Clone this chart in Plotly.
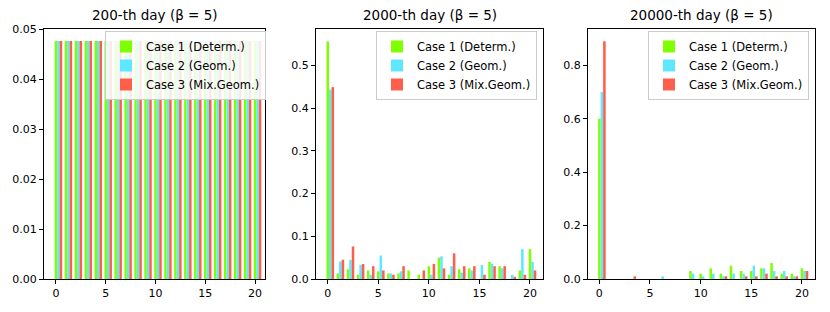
import plotly.graph_objects as go

categories = list(range(21))
series_names = ["Case 1 (Determ.)", "Case 2 (Geom.)", "Case 3 (Mix.Geom.)"]
titles = ["200-th day (β = 5)", "2000-th day (β = 5)", "20000-th day (β = 5)"]

# Day 200: uniform distribution
day200_case1 = [0.0476] * 21
day200_case2 = [0.0476] * 21
day200_case3 = [0.0476] * 21

# Day 2000
day2000_case1 = [0.556, 0.013, 0.023, 0.010, 0.020, 0.018, 0.013, 0.013, 0.020, 0.010, 0.030,
                 0.050, 0.010, 0.023, 0.025, 0.0, 0.040, 0.030, 0.0, 0.020, 0.070]
day2000_case2 = [0.443, 0.041, 0.045, 0.033, 0.010, 0.055, 0.013, 0.018, 0.0, 0.0, 0.010,
                 0.053, 0.030, 0.015, 0.020, 0.033, 0.036, 0.025, 0.010, 0.070, 0.040]
day2000_case3 = [0.449, 0.045, 0.076, 0.035, 0.030, 0.020, 0.010, 0.030, 0.0, 0.020, 0.035,
                 0.025, 0.060, 0.030, 0.030, 0.010, 0.030, 0.030, 0.005, 0.010, 0.020]

# Day 20000
day20000_case1 = [0.60, 0.0, 0.0, 0.0, 0.0, 0.0, 0.0, 0.0, 0.0, 0.03, 0.02,
                  0.04, 0.02, 0.05, 0.03, 0.03, 0.04, 0.06, 0.02, 0.02, 0.04]
day20000_case2 = [0.70, 0.0, 0.0, 0.0, 0.0, 0.0, 0.01, 0.0, 0.0, 0.02, 0.01,
                  0.02, 0.01, 0.02, 0.02, 0.05, 0.04, 0.03, 0.03, 0.01, 0.03]
day20000_case3 = [0.89, 0.0, 0.0, 0.01, 0.0, 0.0, 0.0, 0.0, 0.0, 0.0, 0.0,
                  0.0, 0.01, 0.0, 0.01, 0.01, 0.02, 0.01, 0.01, 0.01, 0.03]

panels = [
    [day200_case1, day200_case2, day200_case3],
    [day2000_case1, day2000_case2, day2000_case3],
    [day20000_case1, day20000_case2, day20000_case3],
]
colors = ["#80FF00", "#5EE8FF", "#FF5E4A"]
bar_width = 0.25
offsets = [0.0, 0.25, 0.5]

# page body has a default 8px margin; figure is laid out in screen pixels minus that offset
OFF = 8
W, H = 830 - 2 * OFF, 312 - 2 * OFF


def fx(px):
    return (px - OFF) / W


def fy(py):
    return (H - (py - OFF)) / H


x_domains = [(44, 265), (316, 543), (588, 815)]
x_ranges = [[-1.2, 21.0], [-1.16, 21.29], [-1.12, 21.29]]
legend_right = [266, 537, 809]
y_bottom, y_top = 279, 29
y_ranges = [[0, 0.05], [0, 0.585], [0, 0.936]]
y_ticks = [[0, 0.01, 0.02, 0.03, 0.04, 0.05], [0, 0.1, 0.2, 0.3, 0.4, 0.5], [0, 0.2, 0.4, 0.6, 0.8]]
y_fmt = [".2f", ".1f", ".1f"]

font = "DejaVu Sans"
fig = go.Figure()
for p in range(3):
    ax = "" if p == 0 else str(p + 1)
    leg = "legend" if p == 0 else f"legend{p + 1}"
    for s in range(3):
        fig.add_trace(go.Bar(
            x=[c + offsets[s] for c in categories],
            y=panels[p][s],
            width=bar_width,
            name=series_names[s],
            marker=dict(color=colors[s], line=dict(width=0)),
            xaxis="x" + ax, yaxis="y" + ax,
            legend=leg,
        ))
    d = x_domains[p]
    axis_common = dict(showline=True, linecolor="black", linewidth=1, mirror=True,
                       ticks="outside", ticklen=4, tickcolor="black", showgrid=False,
                       zeroline=False, automargin=False,
                       tickfont=dict(family=font, size=11, color="black"))
    fig.update_layout(**{
        "xaxis" + ax: dict(domain=[fx(d[0]), fx(d[1])], range=x_ranges[p],
                           tickvals=[0, 5, 10, 15, 20], anchor="y" + ax, **axis_common),
        "yaxis" + ax: dict(domain=[fy(y_bottom), fy(y_top)], range=y_ranges[p],
                           tickvals=y_ticks[p], tickformat=y_fmt[p], anchor="x" + ax,
                           **axis_common),
        leg: dict(x=fx(legend_right[p]), y=fy(31), xanchor="right", yanchor="top",
                  bgcolor="rgba(255,255,255,0.85)", bordercolor="#cccccc", borderwidth=1,
                  font=dict(family=font, size=11.5, color="black"), tracegroupgap=0,
                  itemsizing="constant"),
    })
    fig.add_annotation(text=titles[p], x=fx((d[0] + d[1]) / 2), y=fy(y_top - 4),
                       xref="paper", yref="paper", xanchor="center", yanchor="bottom",
                       showarrow=False, font=dict(family=font, size=13.5, color="black"))

fig.update_layout(width=W, height=H, margin=dict(l=0, r=0, t=0, b=0, autoexpand=False),
                  barmode="overlay", paper_bgcolor="white", plot_bgcolor="white",
                  showlegend=True)
fig.write_html("out.html")
